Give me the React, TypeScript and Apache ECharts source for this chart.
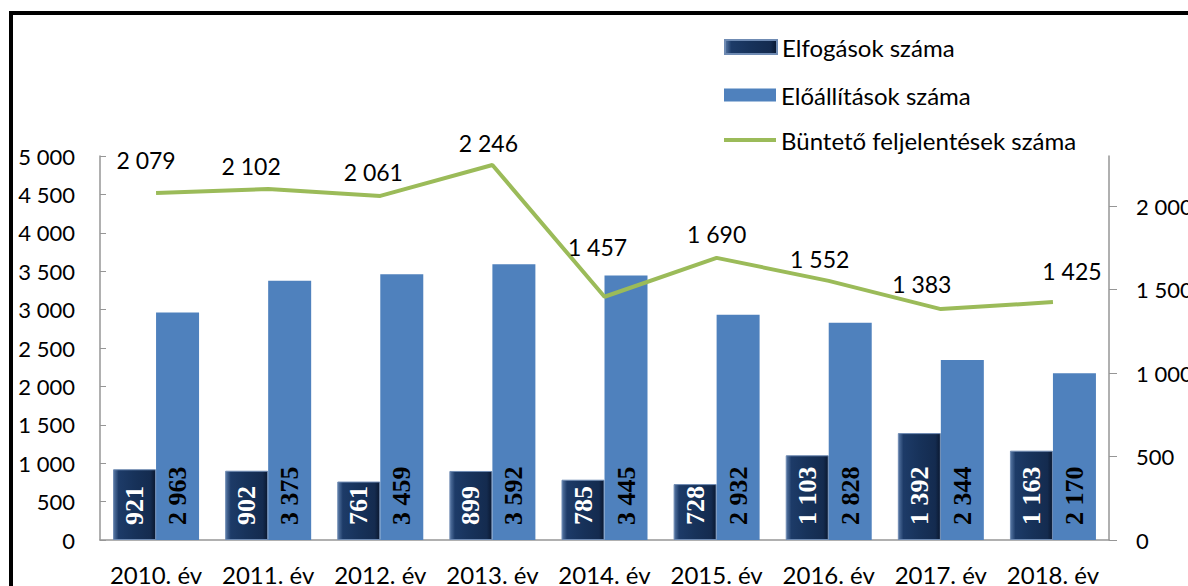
import React, { useEffect, useRef } from "react";
import * as echarts from "echarts";

const categories = ["2010. év", "2011. év", "2012. év", "2013. év", "2014. év", "2015. év", "2016. év", "2017. év", "2018. év"];
const elfogasok = [921, 902, 761, 899, 785, 728, 1103, 1392, 1163];
const eloallitasok = [2963, 3375, 3459, 3592, 3445, 2932, 2828, 2344, 2170];
const feljelentesek = [2079, 2102, 2061, 2246, 1457, 1690, 1552, 1383, 1425];
const leftTicks = [0, 5000, 500];
const rightTicks = [0, 2300, 500];
// label placement (style): offset of each line label centre from its point
const lineLabelOffsets: [number, number][] = [
  [-10, -33], [-17, -23], [-7, -24], [-4, -22], [-7, -50], [0, -24], [-9, -22], [-19, -25], [19, -31],
];

const NAMES = ["Elfogások száma", "Előállítások száma", "Büntető feljelentések száma"];
const FONT = "Lato";
const BAR_W = 43;
const fmt = (n: number) => String(n).replace(/\B(?=(\d{3})+(?!\d))/g, " ");

function barLabelSeries(values: number[], dx: number, color: string) {
  return {
    type: "custom",
    coordinateSystem: "cartesian2d",
    data: values.map((v, i) => [i, v]),
    silent: true,
    z: 10,
    renderItem: (params: any, api: any) => {
      const i = api.value(0);
      const v = api.value(1);
      const base = api.coord([i, 0]);
      return {
        type: "text",
        x: base[0] + dx,
        y: base[1] - 15,
        rotation: Math.PI / 2,
        style: {
          text: fmt(v),
          fill: color,
          fontSize: 26,
          fontWeight: "bold",
          fontFamily: "Liberation Serif",
          align: "left",
          verticalAlign: "middle",
        },
      };
    },
  };
}

export default function App() {
  const ref = useRef<HTMLDivElement>(null);
  useEffect(() => {
    const chart = echarts.init(ref.current!, undefined, { renderer: "svg" });
    const darkGrad = new echarts.graphic.LinearGradient(0, 0, 1, 0, [
      { offset: 0, color: "#5676a3" },
      { offset: 0.12, color: "#1d3b68" },
      { offset: 0.5, color: "#17325a" },
      { offset: 0.88, color: "#142b4f" },
      { offset: 1, color: "#0a1830" },
    ]);
    const legendText = { fontSize: 24, color: "#000", fontFamily: FONT, lineHeight: 26 };
    chart.setOption({
      animation: false,
      backgroundColor: "#ffffff",
      textStyle: { fontFamily: FONT },
      graphic: [
        {
          type: "rect",
          shape: { x: 11, y: 13, width: 1400, height: 800 },
          style: { fill: "none", stroke: "#000", lineWidth: 4 },
          z: 100,
        },
      ],
      legend: [
        {
          data: [NAMES[0]], left: 719, top: 29, orient: "vertical",
          itemWidth: 52, itemHeight: 14, icon: "rect", itemGap: 0, textStyle: legendText,
        },
        {
          data: [NAMES[1]], left: 719, top: 77, orient: "vertical",
          itemWidth: 52, itemHeight: 13, icon: "rect", itemGap: 0, textStyle: legendText,
        },
        {
          data: [NAMES[2]], left: 719, top: 122, orient: "vertical",
          itemWidth: 52, itemHeight: 4, icon: "rect", itemGap: 0, textStyle: legendText,
        },
      ],
      grid: { left: 100, right: 79, top: 156, bottom: 46, containLabel: false, outerBoundsMode: "none" },
      xAxis: {
        type: "category",
        data: categories,
        axisLine: { lineStyle: { color: "#969696", width: 1.5 } },
        axisTick: { show: false },
        axisLabel: { color: "#000", fontSize: 24, fontFamily: FONT, margin: 22, interval: 0 },
      },
      yAxis: [
        {
          type: "value",
          min: leftTicks[0], max: leftTicks[1], interval: leftTicks[2],
          splitLine: { show: false },
          axisLine: { show: true, lineStyle: { color: "#969696", width: 1.5 } },
          axisTick: { show: true, inside: true, length: 6, lineStyle: { color: "#969696" } },
          axisLabel: { color: "#000", fontSize: 22, fontFamily: FONT, margin: 25, formatter: (v: number) => fmt(v) },
        },
        {
          type: "value",
          min: rightTicks[0], max: rightTicks[1], interval: rightTicks[2],
          splitLine: { show: false },
          axisLine: { show: true, lineStyle: { color: "#969696", width: 1.5 } },
          axisTick: { show: true, length: 8, lineStyle: { color: "#969696" } },
          axisLabel: {
            color: "#000", fontSize: 22, fontFamily: FONT, margin: 27, showMaxLabel: false,
            align: "left",
            formatter: (v: number) => (v % 500 === 0 ? fmt(v) : ""),
          },
        },
      ],
      series: [
        {
          name: NAMES[0],
          type: "bar",
          data: elfogasok,
          barWidth: BAR_W,
          barGap: "0%",
          itemStyle: { color: darkGrad, borderColor: "#6f8bb3", borderWidth: 1 },
        },
        {
          name: NAMES[1],
          type: "bar",
          data: eloallitasok,
          barWidth: BAR_W,
          itemStyle: { color: "#4f81bd" },
        },
        {
          name: NAMES[2],
          type: "line",
          yAxisIndex: 1,
          data: feljelentesek.map((v, i) => ({
            value: v,
            label: { offset: lineLabelOffsets[i] },
          })),
          symbol: "circle",
          symbolSize: 0.1,
          lineStyle: { color: "#9bbb59", width: 4 },
          itemStyle: { color: "#9bbb59" },
          label: {
            show: true, position: "inside", color: "#000", fontSize: 23, fontFamily: FONT,
            formatter: (p: any) => fmt(p.value),
          },
          z: 5,
        },
        barLabelSeries(elfogasok, -BAR_W / 2, "#ffffff"),
        barLabelSeries(eloallitasok, BAR_W / 2, "#000000"),
      ],
    });
    return () => chart.dispose();
  }, []);
  return <div ref={ref} style={{ position: "fixed", left: 0, top: 0, width: 1188, height: 586 }} />;
}
